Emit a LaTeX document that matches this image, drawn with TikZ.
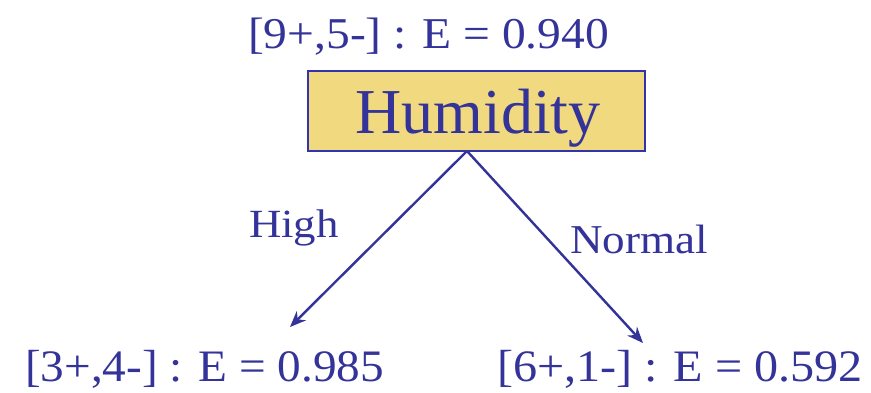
\documentclass[tikz,border=0pt]{standalone}
\usepackage{fontspec}
\setmainfont{Liberation Serif}
\usepackage{graphicx}
\usetikzlibrary{arrows.meta}
\definecolor{txtblue}{HTML}{333399}
\definecolor{boxfill}{HTML}{F0D97E}
\definecolor{boxline}{HTML}{3333AA}
\newcommand\sctext[3]{\scalebox{#1}[1]{\fontsize{#2}{#2}\selectfont #3}}
\tikzset{
  lbl/.style={inner sep=0pt, outer sep=0pt, text=txtblue},
  edge/.style={draw=txtblue, line width=2.4pt, -{Stealth[length=16pt,width=13pt]}},
  attr/.style={draw=boxline, line width=2pt, fill=boxfill, minimum width=337pt, minimum height=80pt, inner sep=0pt}
}
\begin{document}
\begin{tikzpicture}[x=1pt,y=-1pt]
\useasboundingbox (0,0) rectangle (871,392);
\fill[white] (0,0) rectangle (871,392);
\node[lbl, anchor=base west] (top) at (248,48) {\sctext{1.08}{44}{[9+,5-] : E = 0.940}};
\node[attr] (hum) at (476.5,111) {};
\node[lbl, anchor=base] (humt) at (478,133) {\fontsize{64}{64}\selectfont Humidity};
\coordinate (apex) at (467,151);
\coordinate (lend) at (290,327);
\coordinate (rend) at (643,343);
\draw[edge] (apex) -- (lend);
\draw[edge] (apex) -- (rend);
\node[lbl, anchor=base west] (high) at (249,237) {\sctext{1.12}{40}{High}};
\node[lbl, anchor=base west] (norm) at (570,253) {\sctext{1.1}{41}{Normal}};
\node[lbl, anchor=base west] (left) at (25,381) {\sctext{1.05}{45}{[3+,4-] : E = 0.985}};
\node[lbl, anchor=base west] (right) at (497,381) {\sctext{1.07}{45}{[6+,1-] : E = 0.592}};
\end{tikzpicture}
\end{document}
